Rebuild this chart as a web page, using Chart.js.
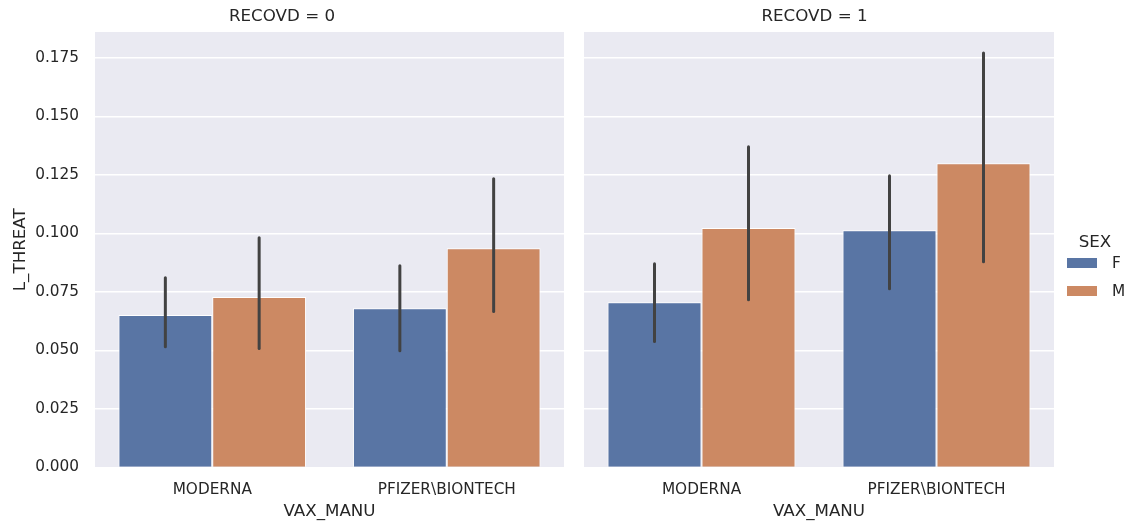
<!DOCTYPE html>
<html>
<head>
<meta charset="utf-8">
<script src="https://cdn.jsdelivr.net/npm/chart.js@4"></script>
<style>
  body { margin: 0; background: #fff; }
  #wrap { position: relative; width: 1127px; height: 524px; }
  canvas { position: absolute; top: 0; }
</style>
</head>
<body>
<div id="wrap">
  <canvas id="left" width="575" height="524" style="left:0"></canvas>
  <canvas id="right" width="552" height="524" style="left:575px"></canvas>
</div>
<script>
var categories = ["MODERNA", "PFIZER\\BIONTECH"];
var sexLabels = ["F", "M"];

// RECOVD = 0
var r0F = [0.0651, 0.0680];
var r0M = [0.0728, 0.0937];
var r0FLo = [0.0516, 0.0499], r0FHi = [0.0811, 0.0862];
var r0MLo = [0.0508, 0.0666], r0MHi = [0.0981, 0.1233];

// RECOVD = 1
var r1F = [0.0706, 0.1013];
var r1M = [0.1023, 0.1300];
var r1FLo = [0.0538, 0.0764], r1FHi = [0.0870, 0.1246];
var r1MLo = [0.0717, 0.0879], r1MHi = [0.1370, 0.1771];

var BLUE = "#5975a4";
var ORANGE = "#cc8963";
var FONT = "'DejaVu Sans', sans-serif";

Chart.defaults.color = "#262626";
Chart.defaults.font.family = FONT;

// plot background
var bgPlugin = {
	id: "bg",
	beforeDraw: function (chart) {
		var a = chart.chartArea, ctx = chart.ctx;
		ctx.save();
		ctx.fillStyle = "#eaeaf2";
		ctx.fillRect(a.left, a.top, a.right - a.left, a.bottom - a.top);
		ctx.restore();
	}
};

// error bars (lo/hi arrays per dataset)
var errPlugin = {
	id: "err",
	afterDatasetsDraw: function (chart) {
		var ctx = chart.ctx, y = chart.scales.y;
		ctx.save();
		ctx.strokeStyle = "#424242";
		ctx.lineWidth = 3;
		ctx.lineCap = "round";
		chart.data.datasets.forEach(function (ds, i) {
			var meta = chart.getDatasetMeta(i);
			meta.data.forEach(function (bar, j) {
				ctx.beginPath();
				ctx.moveTo(bar.x, y.getPixelForValue(ds.lo[j]));
				ctx.lineTo(bar.x, y.getPixelForValue(ds.hi[j]));
				ctx.stroke();
			});
		});
		ctx.restore();
	}
};

// hue legend drawn at the right of the second facet
var legendPlugin = {
	id: "hueLegend",
	afterDraw: function (chart, args, opts) {
		if (!opts.show) return;
		var ctx = chart.ctx;
		ctx.save();
		ctx.font = "16.7px " + FONT;
		ctx.fillStyle = "#262626";
		ctx.textAlign = "center";
		ctx.textBaseline = "middle";
		ctx.fillText("SEX", 520, 243);
		ctx.font = "15.3px " + FONT;
		ctx.textAlign = "left";
		chart.data.datasets.forEach(function (ds, i) {
			var cy = 263 + i * 28;
			ctx.fillStyle = ds.backgroundColor;
			ctx.fillRect(492, cy - 5, 30, 10);
			ctx.fillStyle = "#262626";
			ctx.fillText(ds.label, 537, cy + 1);
		});
		ctx.restore();
	}
};

function makeFacet(id, title, fVals, mVals, fLo, fHi, mLo, mHi, first) {
	var yWidth = first ? 95 : 9;
	return new Chart(document.getElementById(id), {
		type: "bar",
		data: {
			labels: categories,
			datasets: [{
				label: sexLabels[0],
				data: fVals,
				lo: fLo, hi: fHi,
				backgroundColor: BLUE,
				borderColor: "#ffffff",
				borderWidth: 1,
				categoryPercentage: 0.8,
				barPercentage: 1.0
			}, {
				label: sexLabels[1],
				data: mVals,
				lo: mLo, hi: mHi,
				backgroundColor: ORANGE,
				borderColor: "#ffffff",
				borderWidth: 1,
				categoryPercentage: 0.8,
				barPercentage: 1.0
			}]
		},
		options: {
			responsive: false,
			animation: false,
			devicePixelRatio: 1,
			layout: { padding: { left: 0, right: first ? 11 : 73, top: 0, bottom: 0 } },
			plugins: {
				legend: { display: false },
				tooltip: { enabled: false },
				title: {
					display: true,
					text: title,
					color: "#262626",
					font: { size: 16.7, weight: "normal", family: FONT },
					padding: { top: 7, bottom: 5 }
				},
				hueLegend: { show: !first }
			},
			scales: {
				x: {
					grid: { display: false, drawTicks: false },
					border: { display: false },
					ticks: { font: { size: 15.3 }, padding: 13, color: "#262626" },
					title: {
						display: true,
						text: "VAX_MANU",
						font: { size: 16.7 },
						padding: { top: 0, bottom: 2 },
						color: "#262626"
					},
					afterFit: function (s) { s.height = 56.5; }
				},
				y: {
					min: 0,
					max: 0.186,
					grid: { color: "#ffffff", lineWidth: 1.5, drawTicks: false },
					border: { display: false },
					ticks: {
						display: first,
						stepSize: 0.025,
						includeBounds: false,
						padding: 16,
						font: { size: 15.3 },
						color: "#262626",
						callback: function (v) { return v.toFixed(3); }
					},
					title: {
						display: first,
						text: "L_THREAT",
						font: { size: 16.7 },
						padding: { top: 11, bottom: 0 },
						color: "#262626"
					},
					afterFit: function (s) { s.width = yWidth; }
				}
			}
		},
		plugins: [bgPlugin, errPlugin, legendPlugin]
	});
}

makeFacet("left", "RECOVD = 0", r0F, r0M, r0FLo, r0FHi, r0MLo, r0MHi, true);
makeFacet("right", "RECOVD = 1", r1F, r1M, r1FLo, r1FHi, r1MLo, r1MHi, false);
</script>
</body>
</html>
